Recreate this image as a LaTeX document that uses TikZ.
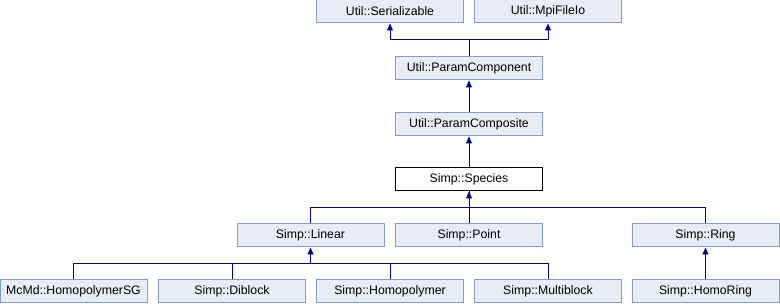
\documentclass[tikz,border=0pt]{standalone}
\usepackage{fontspec}
\setmainfont{Liberation Sans}
\usepackage{tikz}
\usetikzlibrary{arrows.meta}
\definecolor{boxfill}{HTML}{E8ECF5}
\definecolor{boxline}{HTML}{849CD0}
\definecolor{edge}{HTML}{000080}
\tikzstyle{cls}=[fill=boxfill, draw=boxline, line width=1pt, shape=rectangle,
        font=\fontsize{12.3}{14}\selectfont, inner sep=0pt,
        minimum width=147pt, minimum height=23pt]
\tikzstyle{cur}=[cls, fill=white, draw=black]
\tikzstyle{inh}=[draw=edge, line width=1pt, -{Triangle[length=7pt, width=6pt]}]
\tikzstyle{bus}=[draw=edge, line width=1pt]

\begin{document}
\begin{tikzpicture}[x=1pt, y=-1pt]
        \useasboundingbox (0,0) rectangle (780,304);

        \node[cls] (0) at (390,11.5) {Util::Serializable};
        \node[cls] (1) at (548,11.5) {Util::MpiFileIo};
        \node[cls] (2) at (469,68.5) {Util::ParamComponent};
        \node[cls] (3) at (469,124.5) {Util::ParamComposite};
        \node[cur] (4) at (469,179.5) {Simp::Species};
        \node[cls] (5) at (310.5,235.5) {Simp::Linear};
        \node[cls] (6) at (469,235.5) {Simp::Point};
        \node[cls] (7) at (705.5,235.5) {Simp::Ring};
        \node[cls] (8) at (73.5,291.5) {McMd::HomopolymerSG};
        \node[cls] (9) at (232,291.5) {Simp::Diblock};
        \node[cls] (10) at (390,291.5) {Simp::Homopolymer};
        \node[cls] (11) at (548,291.5) {Simp::Multiblock};
        \node[cls] (12) at (705.5,291.5) {Simp::HomoRing};

        % junctions of the bus lines
        \coordinate (b2) at (469,40);
        \coordinate (b4) at (469,208);
        \coordinate (b5) at (310.5,264);

        \draw[bus] (2) -- (b2);
        \draw[inh] (b2) -| (0);
        \draw[inh] (b2) -| (1);
        \draw[inh] (3) -- (2);
        \draw[inh] (4) -- (3);

        \draw[bus] (5.north) |- (b4);
        \draw[bus] (7.north) |- (b4);
        \draw[inh] (6) -- (4);
        \draw[bus] (b4) -- (4);

        \draw[bus] (8.north) |- (b5);
        \draw[bus] (9.north) |- (b5);
        \draw[bus] (10.north) |- (b5);
        \draw[bus] (11.north) |- (b5);
        \draw[inh] (b5) -- (5);
        \draw[inh] (12) -- (7);
\end{tikzpicture}
\end{document}
